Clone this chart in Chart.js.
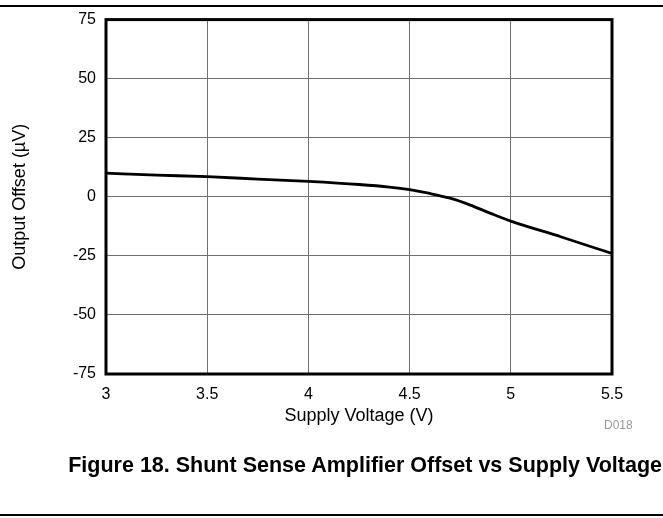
<!DOCTYPE html>
<html>
<head>
<meta charset="utf-8">
<script src="https://cdn.jsdelivr.net/npm/chart.js@4/dist/chart.umd.min.js"></script>
<style>
  body { margin: 0; background: #fff; font-family: "Liberation Sans", Arial, sans-serif; }
  #wrap { position: relative; width: 663px; height: 518px; }
  #chart { position: absolute; left: 0; top: 0; }
  .rule { position: absolute; left: 0; width: 663px; height: 2px; background: #000; }
  #caption { position: absolute; right: 1px; top: 453px; font-size: 21.5px; font-weight: bold; color: #000; white-space: nowrap; }
  #code { position: absolute; left: 604px; top: 418px; font-size: 12px; color: #999; }
</style>
</head>
<body>
<div id="wrap">
  <div class="rule" style="top:5px"></div>
  <canvas id="chart" width="663" height="518"></canvas>
  <div id="code">D018</div>
  <div id="caption">Figure 18. Shunt Sense Amplifier Offset vs Supply Voltage</div>
  <div class="rule" style="top:514px"></div>
</div>
<script>
const supplyVoltage = [3, 3.25, 3.5, 3.75, 4, 4.25, 4.4, 4.5, 4.6, 4.7, 4.8, 4.9, 5, 5.25, 5.5];
const outputOffset = [10, 9.2, 8.5, 7.5, 6.5, 5.2, 4.1, 3, 1.4, -0.6, -3.5, -7, -10.3, -17, -24];
const xTicks = [3, 3.5, 4, 4.5, 5, 5.5];
const yTicks = [-75, -50, -25, 0, 25, 50, 75];

const boxBorder = {
  id: "boxBorder",
  afterDraw(chart) {
    const { ctx, chartArea } = chart;
    ctx.save();
    ctx.strokeStyle = "#000";
    ctx.lineWidth = 3;
    ctx.strokeRect(chartArea.left, chartArea.top, chartArea.right - chartArea.left, chartArea.bottom - chartArea.top);
    ctx.restore();
  }
};

const ctx = document.getElementById("chart");

new Chart(ctx, {
  type: "line",
  data: {
    datasets: [
      {
        data: supplyVoltage.map((v, i) => ({ x: v, y: outputOffset[i] })),
        borderColor: "#000",
        borderWidth: 2.8,
        pointRadius: 0,
        cubicInterpolationMode: "monotone"
      }
    ]
  },
  options: {
    responsive: false,
    animation: false,
    layout: {
      padding: { left: 0, top: 19, right: 51, bottom: 84 }
    },
    plugins: {
      legend: { display: false },
      tooltip: { enabled: false }
    },
    scales: {
      x: {
        type: "linear",
        min: 3,
        max: 5.5,
        afterBuildTicks: scale => { scale.ticks = xTicks.map(v => ({ value: v })); },
        afterFit: scale => { scale.height = 60; },
        ticks: {
          color: "#000",
          padding: 11,
          font: { family: "Liberation Sans", size: 16 },
          callback: value => `${value}`
        },
        grid: { color: "#707070", lineWidth: 1, drawTicks: false },
        border: { display: false },
        title: {
          display: true,
          text: "Supply Voltage (V)",
          color: "#000",
          font: { family: "Liberation Sans", size: 18 },
          padding: { top: 0, bottom: 7 }
        }
      },
      y: {
        min: -75,
        max: 75,
        afterBuildTicks: scale => { scale.ticks = yTicks.map(v => ({ value: v })); },
        afterFit: scale => { scale.width = 106; },
        ticks: {
          color: "#000",
          padding: 10,
          font: { family: "Liberation Sans", size: 16 }
        },
        grid: { color: "#707070", lineWidth: 1, drawTicks: false },
        border: { display: false },
        title: {
          display: true,
          text: "Output Offset (µV)",
          color: "#000",
          font: { family: "Liberation Sans", size: 18 },
          padding: { top: 9, bottom: 0 }
        }
      }
    }
  },
  plugins: [boxBorder]
});
</script>
</body>
</html>
